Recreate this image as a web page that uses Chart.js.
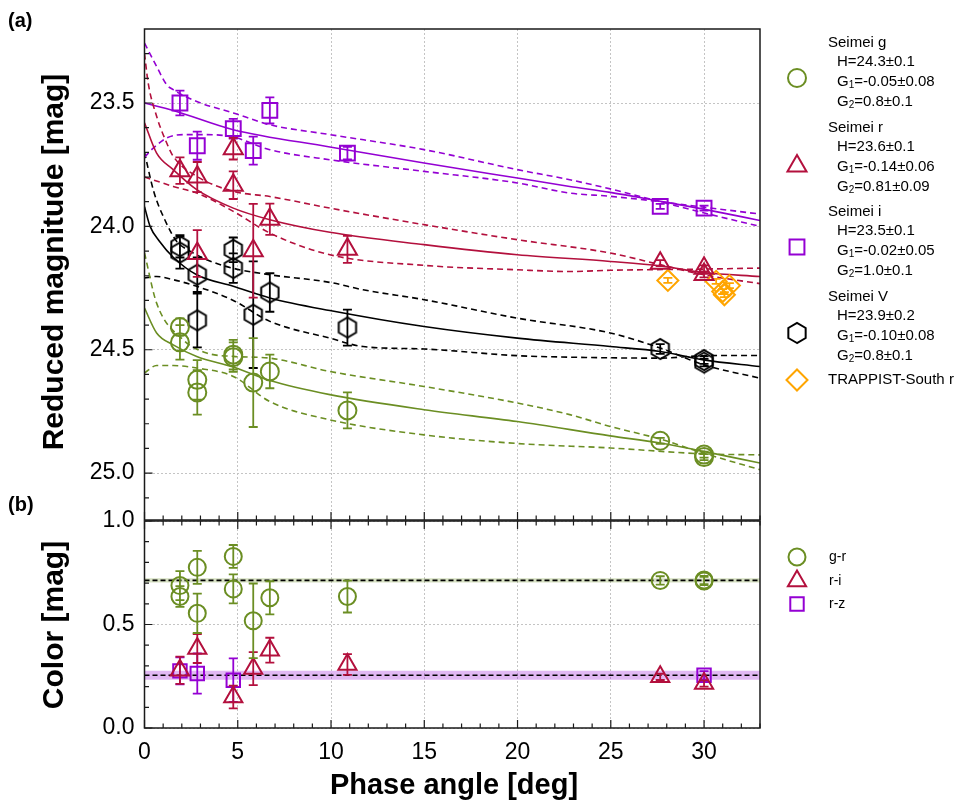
<!DOCTYPE html>
<html>
<head>
<meta charset="utf-8">
<title>Phase curve and colors</title>
<script src="https://cdn.jsdelivr.net/npm/chart.js@4.4.1/dist/chart.umd.min.js"></script>
<style>
  html, body { margin: 0; padding: 0; background: #fff; }
  #wrap { position: relative; width: 971px; height: 804px; }
  #wrap canvas { position: absolute; left: 0; top: 0; }
</style>
</head>
<body>
<div id="wrap">
  <canvas id="magChart" width="971" height="804"></canvas>
  <canvas id="colorChart" width="971" height="804"></canvas>
</div>
<script>
// ---- (a) reduced magnitudes: phase angle [deg], magnitude, 1-sigma error ----
const gPhase = [1.9, 1.9, 2.83, 2.83, 4.76, 4.76, 5.83, 6.72, 10.88, 27.65, 30.0, 30.0];
const gMag   = [24.408, 24.47, 24.622, 24.673, 24.52, 24.53, 24.633, 24.588, 24.746, 24.869, 24.925, 24.935];
const gErr   = [0.035, 0.07, 0.08, 0.09, 0.06, 0.06, 0.18, 0.068, 0.073, 0.012, 0.012, 0.012];

const rPhase = [1.9, 2.83, 2.83, 4.76, 4.76, 5.83, 6.72, 10.88, 27.65, 30.0, 30.0];
const rMag   = [23.774, 23.80, 24.11, 23.685, 23.833, 24.099, 23.971, 24.093, 24.149, 24.17, 24.195];
const rErr   = [0.054, 0.061, 0.095, 0.044, 0.056, 0.19, 0.063, 0.055, 0.012, 0.012, 0.012];

const iPhase = [1.9, 2.83, 4.76, 5.83, 6.72, 10.88, 27.65, 30.0];
const iMag   = [23.50, 23.673, 23.604, 23.693, 23.53, 23.703, 23.919, 23.926];
const iErr   = [0.05, 0.057, 0.04, 0.057, 0.053, 0.025, 0.01, 0.01];

const vPhase = [1.9, 1.9, 2.83, 2.83, 4.76, 4.76, 5.83, 6.72, 10.88, 27.65, 30.0, 30.0];
const vMag   = [24.081, 24.106, 24.196, 24.381, 24.095, 24.169, 24.358, 24.268, 24.41, 24.497, 24.542, 24.552];
const vErr   = [0.045, 0.065, 0.07, 0.109, 0.05, 0.06, 0.216, 0.078, 0.073, 0.02, 0.015, 0.015];

const tPhase = [28.06, 30.65, 31.36, 31.0, 31.09];
const tMag   = [24.219, 24.223, 24.24, 24.264, 24.277];
const tErr   = [0.01, 0.01, 0.01, 0.01, 0.01];

// HG1G2 fits (solid) and their envelopes (dashed)
const gFitX = [0, 0.65, 1.54, 2.8, 4.76, 6.72, 9.94, 14.99, 19.99, 24.97, 27.65, 29.97, 33];
const gFitY = [24.331, 24.432, 24.48, 24.527, 24.57, 24.625, 24.682, 24.743, 24.791, 24.849, 24.878, 24.912, 24.959];
const gHiX  = [0, 0.65, 2.08, 3.33, 4.76, 6.72, 9.94, 14.99, 19.99, 22.8, 24.97, 27.65, 29.97, 33];
const gHiY  = [24.108, 24.311, 24.46, 24.513, 24.527, 24.534, 24.588, 24.649, 24.716, 24.763, 24.811, 24.862, 24.919, 24.986];
const gLoX  = [0, 0.65, 1.54, 2.8, 4.76, 6.72, 9.94, 14.99, 19.99, 24.97, 29.97, 33];
const gLoY  = [24.594, 24.564, 24.564, 24.574, 24.608, 24.71, 24.784, 24.845, 24.88, 24.898, 24.922, 24.926];

const rFitX = [0, 0.65, 1.54, 2.8, 4.76, 6.72, 9.94, 14.99, 19.99, 24.97, 27.65, 29.97, 33];
const rFitY = [23.58, 23.703, 23.77, 23.851, 23.926, 23.973, 24.024, 24.074, 24.115, 24.142, 24.16, 24.187, 24.203];
const rHiX  = [0, 0.2, 0.65, 1.19, 1.54, 2.8, 4.76, 6.72, 9.94, 14.99, 19.99, 24.97, 27.65, 29.97, 33];
const rHiY  = [23.30, 23.42, 23.554, 23.662, 23.716, 23.797, 23.858, 23.879, 23.926, 23.993, 24.054, 24.108, 24.155, 24.196, 24.232];
const rLoX  = [0, 1.54, 2.8, 4.76, 6.72, 9.94, 14.99, 19.99, 22.8, 24.97, 29.97, 33];
const rLoY  = [23.80, 23.838, 23.865, 23.939, 24.027, 24.115, 24.158, 24.176, 24.183, 24.178, 24.173, 24.169];

const iFitX = [0, 1.54, 4.76, 9.94, 14.99, 19.99, 22.8, 24.97, 27.65, 29.97, 33];
const iFitY = [23.50, 23.53, 23.608, 23.678, 23.743, 23.804, 23.838, 23.862, 23.898, 23.93, 23.976];
const iHiX  = [0, 0.65, 1.19, 1.54, 2.8, 4.76, 6.72, 9.94, 14.99, 19.99, 22.8, 24.97, 27.65, 29.97, 33];
const iHiY  = [23.257, 23.352, 23.426, 23.446, 23.494, 23.54, 23.588, 23.628, 23.689, 23.77, 23.811, 23.848, 23.9, 23.945, 24.0];
const iLoX  = [0, 0.47, 1.19, 2.08, 3.33, 4.76, 6.72, 9.94, 14.99, 19.99, 22.8, 24.97, 27.65, 29.97, 33];
const iLoY  = [23.72, 23.683, 23.642, 23.628, 23.628, 23.638, 23.689, 23.73, 23.777, 23.824, 23.865, 23.878, 23.9, 23.922, 23.95];

const vFitX = [0, 0.3, 0.8, 1.54, 2.8, 4.76, 6.72, 9.94, 14.99, 19.99, 24.97, 27.65, 29.97, 33];
const vFitY = [23.92, 24.0, 24.06, 24.125, 24.196, 24.243, 24.29, 24.341, 24.406, 24.453, 24.487, 24.507, 24.541, 24.568];
const vHiX  = [0, 0.5, 1.1, 1.72, 2.44, 3.5, 4.76, 6.72, 9.94, 11.72, 14.99, 19.99, 24.97, 27.65, 29.97, 33];
const vHiY  = [23.70, 23.86, 23.975, 24.06, 24.1, 24.14, 24.17, 24.196, 24.227, 24.257, 24.297, 24.372, 24.432, 24.493, 24.561, 24.615];
const vLoX  = [0, 0.65, 1.54, 2.8, 4.76, 6.72, 9.94, 11.72, 14.99, 19.99, 22.8, 27.65, 29.97, 33];
const vLoY  = [24.209, 24.203, 24.216, 24.243, 24.30, 24.385, 24.453, 24.487, 24.497, 24.524, 24.53, 24.534, 24.524, 24.523];

// ---- (b) colors ----
const grPhase = [1.9, 1.9, 2.83, 2.83, 4.76, 4.76, 5.83, 6.72, 10.88, 27.65, 30.0, 30.0];
const grColor = [0.688, 0.635, 0.776, 0.554, 0.829, 0.672, 0.518, 0.629, 0.635, 0.713, 0.71, 0.715];
const grErr   = [0.07, 0.05, 0.08, 0.095, 0.055, 0.07, 0.18, 0.08, 0.077, 0.02, 0.02, 0.02];

const riPhase = [1.9, 2.83, 4.76, 5.83, 6.72, 10.88, 27.65, 30.0];
const riColor = [0.279, 0.384, 0.15, 0.287, 0.376, 0.307, 0.247, 0.215];
const riErr   = [0.066, 0.07, 0.055, 0.08, 0.06, 0.05, 0.015, 0.015];

const rzPhase = [1.9, 2.83, 4.76, 30.0];
const rzColor = [0.276, 0.263, 0.231, 0.255];
const rzErr   = [0.065, 0.097, 0.105, 0.02];

// weighted means with their uncertainty bands
const meanX = [0, 33];
const grMean = 0.713, grSpread = 0.01;
const rzMean = 0.255, rzSpread = 0.022;

const xMajor = [0, 5, 10, 15, 20, 25, 30];

const olive = '#6b8e23', crimson = '#b3103d', violet = '#9400d3', orange = '#ffa500';
const FONT = "'Liberation Sans', Arial, sans-serif";
const MARK_LW = 2;

function pts(xs, ys) { return xs.map((x, i) => ({ x: x, y: ys[i] })); }

// pointy-topped hexagon used as a point style
function hexagonMarker(color, r, lw) {
  const size = Math.ceil(2 * r + lw + 2);
  const c = document.createElement('canvas');
  c.width = size; c.height = size;
  const g = c.getContext('2d');
  g.strokeStyle = color; g.lineWidth = lw;
  g.beginPath();
  for (let k = 0; k < 6; k++) {
    const a = Math.PI / 2 + k * Math.PI / 3;
    const px = size / 2 + r * Math.cos(a), py = size / 2 + r * Math.sin(a);
    if (k) g.lineTo(px, py); else g.moveTo(px, py);
  }
  g.closePath();
  g.stroke();
  return c;
}
const hexagon = hexagonMarker('#000', 10, MARK_LW);

function fitLine(xs, ys, color, dashed) {
  return {
    data: pts(xs, ys), borderColor: color, borderWidth: 1.6,
    borderDash: dashed ? [6, 4] : [], pointRadius: 0,
    cubicInterpolationMode: 'monotone', fill: false, order: 1
  };
}

function marks(xs, ys, errs, color, style, r) {
  return {
    data: pts(xs, ys), errors: errs, showLine: false,
    borderColor: color, backgroundColor: 'rgba(0,0,0,0)',
    pointStyle: style, pointRadius: r, pointBorderWidth: MARK_LW, order: 0
  };
}

function flat(value, color, extra) {
  return Object.assign({
    data: pts(meanX, meanX.map(() => value)), borderColor: color, borderWidth: 0,
    pointRadius: 0, fill: false, order: 2
  }, extra || {});
}

// vertical error bars with caps, drawn under each marker set
const errorBars = {
  id: 'errorBars',
  beforeDatasetDraw(chart, args) {
    const ds = chart.data.datasets[args.index];
    if (!ds.errors) return;
    const { ctx, chartArea: a } = chart;
    const xs = chart.scales.x, ys = chart.scales.y;
    ctx.save();
    ctx.beginPath();
    ctx.rect(a.left, a.top, a.right - a.left, a.bottom - a.top);
    ctx.clip();
    ctx.strokeStyle = ds.borderColor;
    ctx.lineWidth = 1.8;
    ctx.beginPath();
    ds.data.forEach((p, i) => {
      const e = ds.errors[i];
      const px = xs.getPixelForValue(p.x);
      const y1 = ys.getPixelForValue(p.y - e), y2 = ys.getPixelForValue(p.y + e);
      ctx.moveTo(px, y1); ctx.lineTo(px, y2);
      ctx.moveTo(px - 4.5, y1); ctx.lineTo(px + 4.5, y1);
      ctx.moveTo(px - 4.5, y2); ctx.lineTo(px + 4.5, y2);
    });
    ctx.stroke();
    ctx.restore();
  }
};

// box around the plot area and inward major/minor ticks
const frameTicks = {
  id: 'frameTicks',
  afterDraw(chart, args, opts) {
    const { ctx, chartArea: a } = chart;
    const xs = chart.scales.x, ys = chart.scales.y;
    ctx.save();
    ctx.strokeStyle = '#1a1a1a';
    ctx.lineWidth = 1.2;
    ctx.beginPath();
    for (let d = 0; d <= 33; d++) {
      const px = xs.getPixelForValue(d);
      const len = d % 5 === 0 ? 8 : 4.5;
      ctx.moveTo(px, a.bottom); ctx.lineTo(px, a.bottom - len);
      if (opts.top) { ctx.moveTo(px, a.top); ctx.lineTo(px, a.top + len); }
    }
    for (let k = opts.yFrom; k <= opts.yTo; k++) {
      const py = ys.getPixelForValue(k / 10);
      const len = k % 5 === 0 ? 8 : 4.5;
      ctx.moveTo(a.left, py); ctx.lineTo(a.left + len, py);
    }
    ctx.stroke();
    ctx.lineWidth = 1.5;
    ctx.strokeRect(a.left, a.top, a.right - a.left, a.bottom - a.top);
    ctx.restore();
  }
};

function legendMark(ctx, style, color, r, x, y) {
  ctx.save();
  ctx.strokeStyle = color;
  ctx.fillStyle = 'rgba(0,0,0,0)';
  ctx.lineWidth = MARK_LW;
  Chart.helpers.drawPoint(ctx, { pointStyle: style, radius: r, borderWidth: MARK_LW, rotation: 0 }, x, y);
  ctx.restore();
}

// text with a subscript: [base, sub, rest]
function subText(ctx, parts, x, y, size) {
  ctx.font = size + 'px ' + FONT;
  ctx.fillText(parts[0], x, y);
  let w = ctx.measureText(parts[0]).width;
  ctx.font = Math.round(size * 0.68) + 'px ' + FONT;
  ctx.fillText(parts[1], x + w, y + 4);
  w += ctx.measureText(parts[1]).width;
  ctx.font = size + 'px ' + FONT;
  ctx.fillText(parts[2], x + w, y);
}

function vTitle(ctx, text, x, y) {
  ctx.save();
  ctx.translate(x, y);
  ctx.rotate(-Math.PI / 2);
  ctx.font = 'bold 30px ' + FONT;
  ctx.textAlign = 'center';
  ctx.textBaseline = 'middle';
  ctx.fillText(text, 0, 0);
  ctx.restore();
}

const legendTop = [
  { style: 'circle', color: olive, r: 9, markY: 78, textY: 43,
    lines: ['Seimei g', 'H=24.3±0.1', ['G', '1', '=-0.05±0.08'], ['G', '2', '=0.8±0.1']] },
  { style: 'triangle', color: crimson, r: 11, markY: 166, textY: 128,
    lines: ['Seimei r', 'H=23.6±0.1', ['G', '1', '=-0.14±0.06'], ['G', '2', '=0.81±0.09']] },
  { style: 'rect', color: violet, r: 10.5, markY: 247, textY: 212,
    lines: ['Seimei i', 'H=23.5±0.1', ['G', '1', '=-0.02±0.05'], ['G', '2', '=1.0±0.1']] },
  { style: hexagon, color: '#000', r: 10, markY: 333, textY: 297,
    lines: ['Seimei V', 'H=23.9±0.2', ['G', '1', '=-0.10±0.08'], ['G', '2', '=0.8±0.1']] },
  { style: 'rectRot', color: orange, r: 10.5, markY: 380, textY: 380,
    lines: ['TRAPPIST-South r'] }
];

const magDecor = {
  id: 'magDecor',
  afterDraw(chart) {
    const ctx = chart.ctx;
    ctx.save();
    ctx.fillStyle = '#000';
    ctx.font = 'bold 20px ' + FONT;
    ctx.textBaseline = 'middle';
    ctx.fillText('(a)', 8, 21);
    vTitle(ctx, 'Reduced magnitude [mag]', 55, 262);
    legendTop.forEach(item => {
      legendMark(ctx, item.style, item.color, item.r, 797, item.markY);
      ctx.fillStyle = '#000';
      ctx.textBaseline = 'middle';
      ctx.font = '15px ' + FONT;
      ctx.fillText(item.lines[0], 828, item.textY);
      if (item.lines.length > 1) {
        ctx.fillText(item.lines[1], 837, item.textY + 18.5);
        subText(ctx, item.lines[2], 837, item.textY + 38.5, 15);
        subText(ctx, item.lines[3], 837, item.textY + 58.5, 15);
      }
    });
    ctx.restore();
  }
};

const legendBottom = [
  { style: 'circle', color: olive, r: 8.5, y: 557, label: 'g-r' },
  { style: 'triangle', color: crimson, r: 10.5, y: 581, label: 'r-i' },
  { style: 'rect', color: violet, r: 9.5, y: 604, label: 'r-z' }
];

const colorDecor = {
  id: 'colorDecor',
  afterDraw(chart) {
    const ctx = chart.ctx;
    ctx.save();
    ctx.fillStyle = '#000';
    ctx.font = 'bold 20px ' + FONT;
    ctx.textBaseline = 'middle';
    ctx.fillText('(b)', 8, 505);
    vTitle(ctx, 'Color [mag]', 55, 625);
    ctx.font = 'bold 29px ' + FONT;
    ctx.textAlign = 'center';
    ctx.fillText('Phase angle [deg]', 454, 786);
    ctx.textAlign = 'left';
    legendBottom.forEach(item => {
      legendMark(ctx, item.style, item.color, item.r, 797, item.y);
      ctx.fillStyle = '#000';
      ctx.font = '14px ' + FONT;
      ctx.fillText(item.label, 829, item.y);
    });
    ctx.restore();
  }
};

function xScale(showLabels) {
  return {
    type: 'linear', min: 0, max: 33,
    afterBuildTicks: s => { s.ticks = xMajor.map(v => ({ value: v })); },
    grid: { color: '#c4c4c4', lineWidth: 1, drawTicks: false },
    border: { display: false, dash: [2, 2] },
    ticks: { display: showLabels, color: '#000', padding: 11,
             font: { family: FONT, size: 23 }, callback: v => String(v) },
    afterFit: s => { s.height = showLabels ? 76 : 0; }
  };
}

function yScale(opts) {
  return Object.assign({
    type: 'linear',
    grid: { color: '#c4c4c4', lineWidth: 1, drawTicks: false },
    border: { display: false, dash: [2, 2] },
    ticks: { color: '#000', padding: 10, font: { family: FONT, size: 23 },
             callback: v => v.toFixed(1) },
    afterFit: s => { s.width = 144.5; }
  }, opts);
}

const common = {
  responsive: false,
  animation: false,
  events: [],
  spanGaps: true
};

new Chart(document.getElementById('magChart'), {
  type: 'line',
  data: {
    datasets: [
      marks(gPhase, gMag, gErr, olive, 'circle', 9),
      marks(rPhase, rMag, rErr, crimson, 'triangle', 11),
      marks(iPhase, iMag, iErr, violet, 'rect', 10.5),
      marks(vPhase, vMag, vErr, '#000', hexagon, 10),
      marks(tPhase, tMag, tErr, orange, 'rectRot', 10.5),
      fitLine(gFitX, gFitY, olive, false),
      fitLine(gHiX, gHiY, olive, true),
      fitLine(gLoX, gLoY, olive, true),
      fitLine(rFitX, rFitY, crimson, false),
      fitLine(rHiX, rHiY, crimson, true),
      fitLine(rLoX, rLoY, crimson, true),
      fitLine(iFitX, iFitY, violet, false),
      fitLine(iHiX, iHiY, violet, true),
      fitLine(iLoX, iLoY, violet, true),
      fitLine(vFitX, vFitY, '#000', false),
      fitLine(vHiX, vHiY, '#000', true),
      fitLine(vLoX, vLoY, '#000', true)
    ]
  },
  options: Object.assign({}, common, {
    layout: { padding: { left: 0, top: 29, right: 211, bottom: 284 } },
    plugins: {
      legend: { display: false },
      tooltip: { enabled: false },
      frameTicks: { top: false, yFrom: 233, yTo: 251 }
    },
    scales: {
      x: xScale(false),
      y: yScale({
        reverse: true, min: 23.2, max: 25.19,
        afterBuildTicks: s => { s.ticks = [23.5, 24.0, 24.5, 25.0].map(v => ({ value: v })); }
      })
    }
  }),
  plugins: [errorBars, frameTicks, magDecor]
});

new Chart(document.getElementById('colorChart'), {
  type: 'line',
  data: {
    datasets: [
      marks(grPhase, grColor, grErr, olive, 'circle', 8.5),
      marks(riPhase, riColor, riErr, crimson, 'triangle', 10.5),
      marks(rzPhase, rzColor, rzErr, violet, 'rect', 9.5),
      flat(grMean + grSpread, olive),
      flat(grMean - grSpread, olive, { fill: '-1', backgroundColor: 'rgba(107,142,35,0.28)' }),
      flat(rzMean + rzSpread, violet),
      flat(rzMean - rzSpread, violet, { fill: '-1', backgroundColor: 'rgba(148,0,211,0.28)' }),
      flat(grMean, '#000', { borderWidth: 1.6, borderDash: [5, 3], order: 1 }),
      flat(rzMean, '#000', { borderWidth: 1.6, borderDash: [5, 3], order: 1 })
    ]
  },
  options: Object.assign({}, common, {
    layout: { padding: { left: 0, top: 521, right: 211, bottom: 0 } },
    plugins: {
      legend: { display: false },
      tooltip: { enabled: false },
      filler: { propagate: false },
      frameTicks: { top: true, yFrom: 0, yTo: 10 }
    },
    scales: {
      x: xScale(true),
      y: yScale({
        min: 0, max: 1,
        afterBuildTicks: s => { s.ticks = [0, 0.5, 1.0].map(v => ({ value: v })); }
      })
    }
  }),
  plugins: [errorBars, frameTicks, colorDecor]
});
</script>
</body>
</html>
